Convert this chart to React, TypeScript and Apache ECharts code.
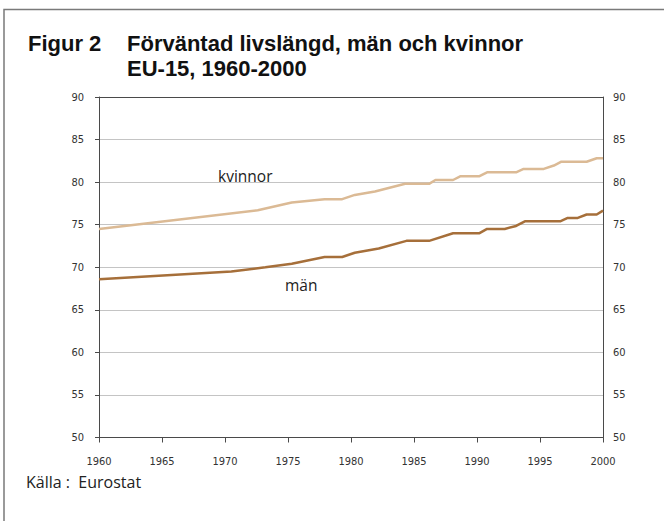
import React, { useEffect, useRef } from "react";
import * as echarts from "echarts";

const xTicks = [1960, 1965, 1970, 1975, 1980, 1985, 1990, 1995, 2000];
const yTicks = [50, 55, 60, 65, 70, 75, 80, 85, 90];

const kvinnorYears = [1960, 1972.6, 1975.3, 1977.9, 1979.3, 1980.3, 1981.9, 1984.3, 1986.2, 1986.7, 1988.1, 1988.7, 1990.2, 1990.8, 1993.1, 1993.7, 1995.3, 1996.1, 1996.7, 1998.7, 1999.5, 2000];
const kvinnorValues = [74.5, 76.7, 77.6, 78.0, 78.0, 78.5, 78.9, 79.8, 79.8, 80.25, 80.25, 80.7, 80.7, 81.15, 81.15, 81.55, 81.55, 81.95, 82.4, 82.4, 82.8, 82.8];

const manYears = [1960, 1970.5, 1973.2, 1975.3, 1977.9, 1979.3, 1980.3, 1982.2, 1984.4, 1986.2, 1988.1, 1990.2, 1990.8, 1992.2, 1993.1, 1993.8, 1996.6, 1997.2, 1998.0, 1998.7, 1999.5, 2000];
const manValues = [68.6, 69.5, 70.0, 70.4, 71.2, 71.2, 71.7, 72.2, 73.1, 73.1, 74.0, 74.0, 74.5, 74.5, 74.85, 75.4, 75.4, 75.8, 75.8, 76.2, 76.2, 76.65];

const seriesNames = ["kvinnor", "män"];
const titleNumber = "Figur 2";
const titleLine1 = "Förväntad livslängd, män och kvinnor";
const titleLine2 = "EU-15, 1960-2000";
const sourceText = "Källa :  Eurostat";

const pairs = (xs: number[], ys: number[]) => xs.map((x, i) => [x, ys[i]]);

export default function App() {
  const ref = useRef<HTMLDivElement>(null);
  useEffect(() => {
    if (!ref.current) return;
    const chart = echarts.init(ref.current, null, { renderer: "svg" });
    const narrow = "'DejaVu Sans Condensed', 'Liberation Sans Narrow', sans-serif";
    const humanist = "'Open Sans', 'Noto Sans', sans-serif";
    const titleFont = "bold 22px 'Liberation Sans', Arial, sans-serif";
    const axisColor = "#4a4a4a";
    chart.setOption({
      animation: false,
      backgroundColor: "#ffffff",
      grid: { left: 99, right: 61, top: 97, bottom: 83.5 },
      xAxis: [
        {
          type: "value",
          min: xTicks[0],
          max: xTicks[xTicks.length - 1],
          interval: 5,
          axisLine: { show: true, lineStyle: { color: axisColor, width: 1 } },
          axisTick: { show: true, length: 5, lineStyle: { color: axisColor } },
          axisLabel: { fontFamily: narrow, fontSize: 11, color: "#333", margin: 18, formatter: (v: number) => String(v) },
          splitLine: { show: false },
        },
        {
          type: "value",
          position: "top",
          min: xTicks[0],
          max: xTicks[xTicks.length - 1],
          axisLine: { show: true, lineStyle: { color: axisColor, width: 1 } },
          axisTick: { show: false },
          axisLabel: { show: false },
          splitLine: { show: false },
        },
      ],
      yAxis: [
        {
          type: "value",
          min: yTicks[0],
          max: yTicks[yTicks.length - 1],
          interval: 5,
          position: "left",
          axisLine: { show: true, lineStyle: { color: axisColor, width: 1 } },
          axisTick: { show: true, length: 4, lineStyle: { color: axisColor } },
          axisLabel: { fontFamily: narrow, fontSize: 11, color: "#333", margin: 15 },
          splitLine: { show: true, showMinLine: false, showMaxLine: false, lineStyle: { color: "#c4c4c4", width: 1 } },
        },
        {
          type: "value",
          min: yTicks[0],
          max: yTicks[yTicks.length - 1],
          interval: 5,
          position: "right",
          axisLine: { show: true, lineStyle: { color: axisColor, width: 1 } },
          axisTick: { show: false },
          axisLabel: { fontFamily: narrow, fontSize: 11, color: "#333", margin: 10 },
          splitLine: { show: false },
        },
      ],
      series: [
        {
          name: seriesNames[0],
          type: "line",
          data: pairs(kvinnorYears, kvinnorValues),
          showSymbol: false,
          lineStyle: { color: "#dbba95", width: 2.5 },
          z: 3,
        },
        {
          name: seriesNames[1],
          type: "line",
          data: pairs(manYears, manValues),
          showSymbol: false,
          lineStyle: { color: "#a66f3a", width: 2.5 },
          z: 3,
        },
      ],
      graphic: [
        {
          type: "polyline",
          shape: { points: [[4, 521], [4, 9.5], [664, 9.5]] },
          style: { stroke: "#7a7a7a", lineWidth: 1.5, fill: "none" },
        },
        {
          type: "text",
          x: 28,
          y: 32,
          style: { text: titleNumber, font: titleFont, fill: "#111" },
        },
        {
          type: "text",
          x: 127,
          y: 32,
          style: { text: titleLine1, font: titleFont, fill: "#111" },
        },
        {
          type: "text",
          x: 127,
          y: 57,
          style: { text: titleLine2, font: titleFont, fill: "#111" },
        },
        {
          type: "text",
          x: 218,
          y: 168,
          style: { text: seriesNames[0], font: `15.5px ${humanist}`, fill: "#222" },
        },
        {
          type: "text",
          x: 285,
          y: 277,
          style: { text: seriesNames[1], font: `15.5px ${humanist}`, fill: "#222" },
        },
        {
          type: "text",
          x: 26,
          y: 474,
          style: { text: sourceText, font: `16px ${humanist}`, fill: "#222" },
        },
      ],
    });
    return () => chart.dispose();
  }, []);
  return <div ref={ref} style={{ position: "fixed", left: 0, top: 0, width: 664, height: 521 }} />;
}
